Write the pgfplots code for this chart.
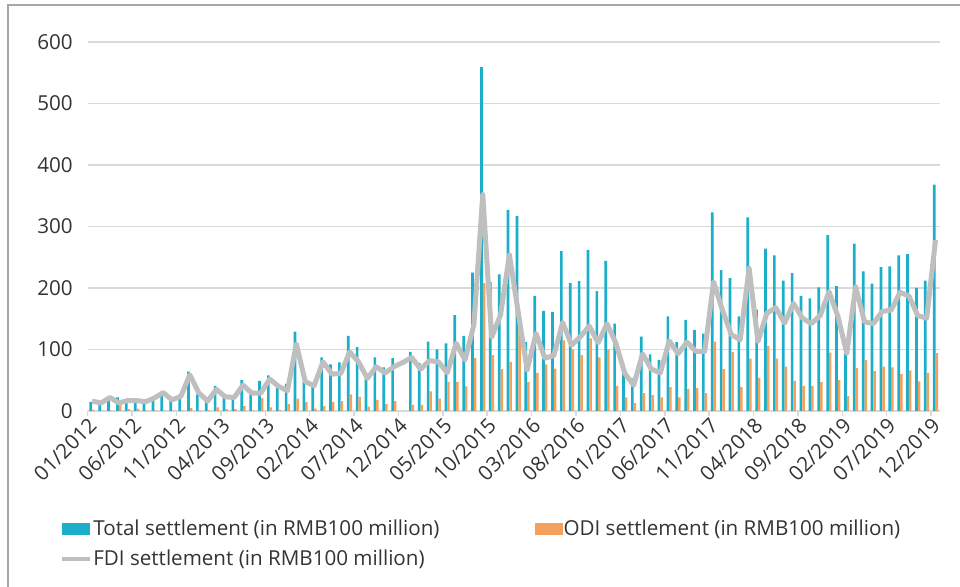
\documentclass[border=0pt]{standalone}
\usepackage{pgfplots}
\pgfplotsset{compat=1.18}
\usepackage{pgfplotstable}
\usepackage{fontspec}
\setmainfont{Open Sans}
\definecolor{teal1}{HTML}{1CAFC9}
\definecolor{orange1}{HTML}{F4A15D}
\definecolor{gray1}{HTML}{BFBFBF}
\definecolor{grid1}{HTML}{D9D9D9}
\definecolor{txt}{HTML}{333333}
\definecolor{frame1}{HTML}{A6A6A6}

\pgfplotstableread{
i total odi fdi
0 15 2 16
1 10 0.5 13
2 20 0.5 22
3 22 10 13
4 18 3 17
5 18 4 17
6 15 1 15
7 19 1 21
8 26 0.5 30
9 16 0.5 18
10 21 1 24
11 64 5 59
12 27 1 30
13 15 1 16
14 41 6 35
15 21 3 23
16 23 3 22
17 50 8 42
18 31 1 29
19 49 21 29
20 58 6 52
21 37 2 40
22 44 11 33
23 129 20 109
24 48 15 48
25 42 4 41
26 87 8 80
27 76 15 60
28 79 16 61
29 122 27 96
30 104 23 80
31 52 7 53
32 87 18 72
33 71 11 62
34 86 16 72
35 nan nan 79
36 96 10 87
37 78 10 68
38 113 32 82
39 100 20 80
40 110 47 62
41 156 47 110
42 122 40 83
43 225 86 140
44 559 208 352
45 210 91 120
46 222 68 156
47 327 80 254
48 317 140 160
49 112 47 67
50 187 62 126
51 163 76 86
52 161 69 90
53 260 115 144
54 208 100 107
55 211 91 121
56 262 118 138
57 195 87 111
58 244 100 142
59 142 41 110
60 67 22 61
61 53 13 42
62 121 29 93
63 92 26 68
64 83 22 62
65 154 39 114
66 112 22 93
67 148 36 112
68 132 37 97
69 126 29 97
70 323 113 210
71 229 68 164
72 216 96 124
73 154 39 116
74 315 85 232
75 165 54 113
76 264 106 159
77 253 85 168
78 212 72 143
79 224 49 175
80 187 41 151
81 183 41 142
82 201 47 155
83 286 95 194
84 203 50 154
85 117 24 94
86 272 70 202
87 227 83 145
88 207 65 142
89 234 72 162
90 235 71 164
91 253 60 193
92 255 66 187
93 200 48 155
94 212 62 151
95 368 94 278
}\data

\begin{document}
\begin{tikzpicture}
\begin{scope}[x=0.5pt,y=-0.5pt]
\useasboundingbox (0,0) rectangle (960,587);
\draw[frame1, line width=0.8pt] (8,590) -- (8,5) -- (965,5);
\end{scope}
\begin{axis}[
  at={(43.85pt,-205.5pt)}, anchor=south west,
  scale only axis, width=426.15pt, height=184.5pt,
  xmin=-0.5, xmax=95.5, ymin=0, ymax=600,
  axis x line*=bottom, axis y line*=left,
  y axis line style={draw=none},
  x axis line style={grid1, line width=0.75pt},
  ymajorgrids, grid style={grid1, line width=0.75pt},
  ytick={0,100,...,600},
  ytick style={draw=none},
  xtick={0,5,...,95},
  xticklabels={01/2012,06/2012,11/2012,04/2013,09/2013,02/2014,07/2014,12/2014,05/2015,10/2015,03/2016,08/2016,01/2017,06/2017,11/2017,04/2018,09/2018,02/2019,07/2019,12/2019},
  tick align=outside,
  major tick length=0pt,
  extra x ticks={-0.5,4.5,...,94.5},
  extra x tick labels={},
  extra x tick style={major tick length=2.5pt, tick style={grid1, line width=0.75pt}},
  /pgf/number format/assume math mode=true,
  tick label style={font=\fontsize{10.3}{12}\selectfont, text=txt},
  yticklabel style={xshift=-4pt},
  xticklabel style={rotate=45, anchor=east, yshift=-4pt},
  legend columns=2,
  legend cell align=left,
  legend style={at={(-0.0396,-0.279)}, anchor=north west, draw=none, fill=none,
    font=\fontsize{10.3}{12}\selectfont, text=txt,
    /tikz/every even column/.append style={column sep=47pt},
    row sep=5pt, nodes={inner sep=0.5pt}},
]
\addplot[ybar, bar width=0.3, bar shift=-0.15, fill=teal1, draw=none,
  legend image code/.code={\fill[teal1] (0pt,-3pt) rectangle (14pt,3pt);}]
  table[x=i,y=total]{\data};
\addlegendentry{Total settlement (in RMB100 million)}
\addplot[ybar, bar width=0.28, bar shift=0.14, fill=orange1, draw=none,
  legend image code/.code={\fill[orange1] (0pt,-3pt) rectangle (14pt,3pt);}]
  table[x=i,y=odi]{\data};
\addlegendentry{ODI settlement (in RMB100 million)}
\addplot[gray1, line width=2.5pt, line join=round, mark=none,
  legend image code/.code={\draw[gray1, line width=2pt] (0pt,0pt) -- (14pt,0pt);}]
  table[x=i,y=fdi]{\data};
\addlegendentry{FDI settlement (in RMB100 million)}
\end{axis}
\end{tikzpicture}
\end{document}
